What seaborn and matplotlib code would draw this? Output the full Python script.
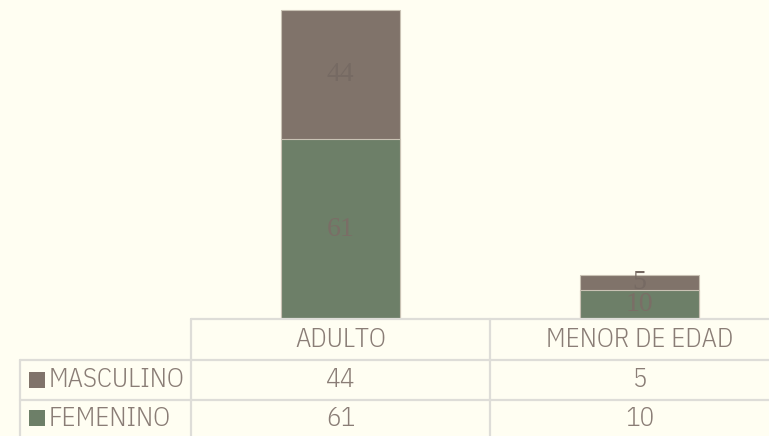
import matplotlib
matplotlib.use('Agg')
import matplotlib.pyplot as plt
import seaborn as sns
import pandas as pd

categorias = ['ADULTO', 'MENOR DE EDAD']
series = ['MASCULINO', 'FEMENINO']
masculino = [44, 5]
femenino = [61, 10]

fondo = '#FFFEF2'
c_masc = '#80736A'
c_fem = '#6D7F68'
c_texto = '#8A7D76'
c_linea = '#DEDDD8'

sns.set_style('white')
plt.rcParams['font.family'] = ['IBM Plex Sans Condensed', 'DejaVu Sans']
plt.rcParams['font.weight'] = 300

df = pd.DataFrame({'categoria': categorias,
                   'masculino': masculino,
                   'femenino': femenino})
df['total'] = df['masculino'] + df['femenino']

W, H = 769, 436
fig = plt.figure(figsize=(W / 100, H / 100), dpi=100, facecolor=fondo)

# bar area: from x=191 px, one category = 299 px, baseline at y=319 px
x0, col = 191, 299
base = 319
ax = fig.add_axes([x0 / W, 1 - base / H, 2 * col / W, base / H])
ax.set_facecolor(fondo)

sns.barplot(data=df, x='categoria', y='total', color=c_masc, width=0.4,
            saturation=1, edgecolor='#C9C2B4', linewidth=0.8, ax=ax)
sns.barplot(data=df, x='categoria', y='femenino', color=c_fem, width=0.4,
            saturation=1, edgecolor='#C9C2B4', linewidth=0.8, ax=ax)

for i, row in df.iterrows():
    ax.text(i, row['femenino'] / 2, str(row['femenino']), ha='center', va='center',
            fontsize=20, color='#7A6E66', family='Liberation Serif', fontweight='normal')
    ax.text(i, row['femenino'] + row['masculino'] / 2, str(row['masculino']),
            ha='center', va='center', fontsize=20, color='#766A63',
            family='Liberation Serif', fontweight='normal')

ax.set_xlim(-0.5, 1.5)
ax.set_ylim(0, 108.4)
ax.axis('off')

# data table below the bars
fila = 40.5
tab = fig.add_axes([x0 / W, (H - base - 3 * fila) / H, 2 * col / W, 3 * fila / H])
tab.set_xlim(-0.5, 1.5)
tab.set_ylim(3, 0)
tab.axis('off')

xl = -0.5 - (x0 - 20) / col
kw = dict(color=c_linea, lw=1.6, clip_on=False)
tab.plot([-0.5, 1.6], [0, 0], **kw)
tab.plot([xl, 1.6], [1, 1], **kw)
tab.plot([xl, 1.6], [2, 2], **kw)
tab.plot([xl, xl], [1, 3], **kw)
tab.plot([-0.5, -0.5], [0, 3], **kw)
tab.plot([0.5, 0.5], [0, 3], **kw)

fs = 19.5
for i, cat in enumerate(categorias):
    tab.text(i, 0.5, cat, ha='center', va='center', fontsize=fs, color=c_texto)
    tab.text(i, 1.5, str(masculino[i]), ha='center', va='center', fontsize=fs, color=c_texto)
    tab.text(i, 2.45, str(femenino[i]), ha='center', va='center', fontsize=fs, color=c_texto)

for j, (nombre, c) in enumerate(zip(series, [c_masc, c_fem])):
    yy = j + 1.5 if j == 0 else 2.45
    tab.scatter([xl + 16.5 / col], [yy], marker='s', s=125, color=c,
                clip_on=False, linewidths=0)
    tab.text(xl + 29 / col, yy, nombre, ha='left', va='center',
             fontsize=fs, color=c_texto, clip_on=False)

fig.savefig('out.png', dpi=100, facecolor=fondo)
